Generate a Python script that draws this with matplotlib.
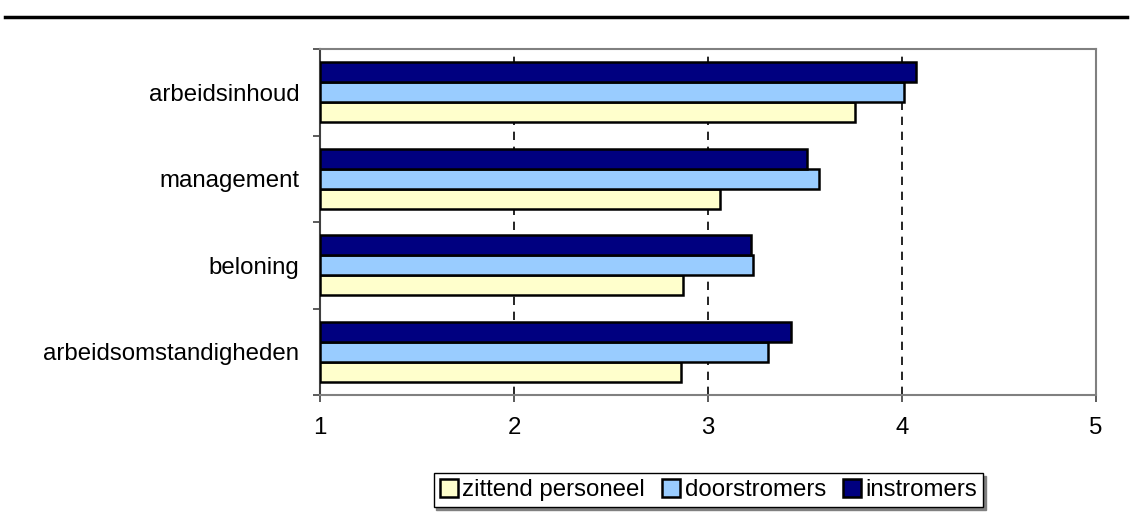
import numpy as np
import matplotlib.pyplot as plt
from matplotlib.lines import Line2D

plt.rcParams['font.family'] = ['Liberation Sans', 'DejaVu Sans']

categories = ['arbeidsinhoud', 'management', 'beloning', 'arbeidsomstandigheden']
zittend = [3.76, 3.06, 2.87, 2.86]
doorstromers = [4.01, 3.57, 3.23, 3.31]
instromers = [4.07, 3.51, 3.22, 3.43]
series_names = ['zittend personeel', 'doorstromers', 'instromers']
colors = ['#FFFFCC', '#99CCFF', '#000080']

fig = plt.figure(figsize=(11.31, 5.22), dpi=100)
ax = fig.add_axes([320 / 1131, 1 - 395 / 522, 776 / 1131, 346 / 522])

n = len(categories)
ypos = np.arange(n)[::-1]
h = 0.231
bars = []
for vals, off, col, name in zip([zittend, doorstromers, instromers], [-h, 0, h], colors, series_names):
    b = ax.barh(ypos + off, np.array(vals) - 1, left=1, height=h, color=col,
                edgecolor='black', linewidth=1.8, label=name, zorder=3)
    bars.append(b)

ax.set_xlim(1, 5)
ax.set_ylim(-0.5, n - 0.5)
ax.set_xticks([1, 2, 3, 4, 5])
ax.set_xticklabels(['1', '2', '3', '4', '5'], fontsize=17.3)
ax.set_yticks(ypos)
ax.set_yticklabels(categories, fontsize=17.3)
ax.set_yticks(np.arange(-0.5, n, 1), minor=True)
ax.tick_params(axis='y', which='major', length=0, pad=15)
ax.tick_params(axis='y', which='minor', length=5, width=1.2, color='#404040', direction='out')
ax.tick_params(axis='x', length=5, width=1.2, color='#404040', direction='out', pad=11)

for x in [2, 3, 4]:
    ax.axvline(x, color='black', linestyle=(0, (5, 4)), linewidth=1.2, zorder=1)

for s in ax.spines.values():
    s.set_color('#808080')
    s.set_linewidth(1.5)
ax.spines['left'].set_color('#404040')

fig.add_artist(Line2D([5 / 1131, 1127 / 1131], [1 - 17 / 522, 1 - 17 / 522],
                      color='black', linewidth=2.5))

leg = fig.legend(handles=bars, labels=series_names, loc='center', ncol=3,
                 bbox_to_anchor=((436 + 981) / 2 / 1131, 1 - 490 / 522),
                 fontsize=17.3, frameon=True, fancybox=False, handlelength=0.75,
                 handleheight=0.75, handletextpad=0.2, columnspacing=0.7,
                 borderpad=0.25, borderaxespad=0,
                 shadow={'color': '#808080', 'alpha': 1})
leg.get_frame().set_edgecolor('black')
leg.get_frame().set_linewidth(1.0)

fig.savefig('out.png', dpi=100)
